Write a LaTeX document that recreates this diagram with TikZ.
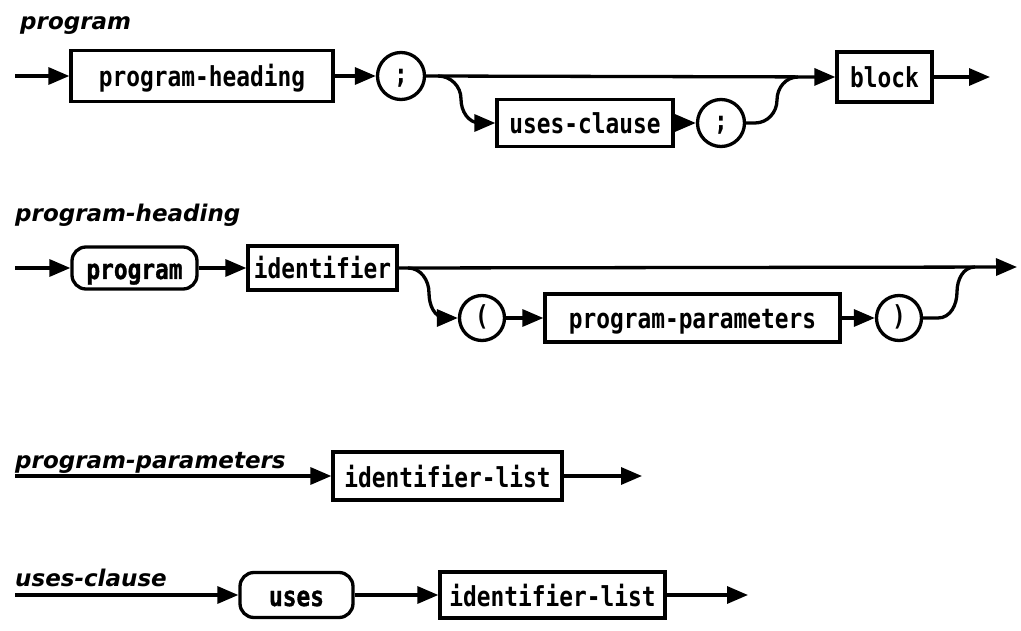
\documentclass[tikz,border=0pt]{standalone}
\usepackage{fontspec}
\usetikzlibrary{arrows.meta}
\newfontfamily\boxfont[FakeStretch=0.83]{DejaVu Sans Mono}
\newfontfamily\kwfont[FakeStretch=0.83,FakeBold=1.2]{DejaVu Sans Mono Bold}
\newfontfamily\ttlfont{DejaVu Sans}
\begin{document}
\begin{tikzpicture}[x=1pt,y=-1pt,
  conn/.style={line width=3.3pt,-{Triangle[length=21pt,width=17pt]}},
  line/.style={line width=3.3pt},
  lbl/.style={font=\boxfont\bfseries\fontsize{27.5}{30}\selectfont,text height=22pt,text depth=0pt},
  nonterm/.style={draw,line width=3.3pt,lbl,inner sep=0pt},
  term/.style={draw,line width=3.3pt,rounded corners=14pt,inner sep=0pt,
    font=\kwfont\fontsize{27.5}{30}\selectfont,text height=22pt,text depth=0pt},
  sym/.style={draw,circle,line width=3.3pt,inner sep=0pt,minimum size=47pt,
    font=\boxfont\bfseries\fontsize{27.5}{30}\selectfont,text height=15pt,text depth=0pt},
  ttl/.style={anchor=base west,inner sep=0pt,font=\ttlfont\bfseries\itshape\fontsize{23}{26}\selectfont}
]
\useasboundingbox (0,0) rectangle (1021,631);

% ---------- program ----------
\node[ttl] (t1) at (20,30) {program};
\coordinate (s1) at (15,76);
\node[nonterm,minimum width=262pt,minimum height=51pt] (ph) at (202,76) {program-heading};
\node[sym] (semi1) at (401,76) {;};
\node[nonterm,minimum width=176pt,minimum height=47pt] (uc) at (585,123) {uses-clause};
\node[sym] (semi2) at (721,123) {;};
\node[nonterm,minimum width=95pt,minimum height=50pt] (blk) at (884.5,77) {block};
\coordinate (e1) at (990,77);
\coordinate (b1) at (438,76);
\coordinate (m1) at (798,77);

\draw[conn] (s1) -- (ph.west);
\draw[conn] (ph.east) -- (semi1.west);
\draw[conn] (semi1.east) -- (blk.west);
\draw[conn] (b1) to[out=0,in=90] (461,99) to[out=-90,in=180] (480,123) -- (uc.west);
\draw[conn] (uc.east) -- (semi2.west);
\draw[line] (semi2.east) -- (755,123) to[out=0,in=-90] (777,100) to[out=90,in=180] (m1);
\draw[conn] (blk.east) -- (e1);

% ---------- program-heading ----------
\node[ttl] (t2) at (15,222) {program-heading};
\coordinate (s2) at (15,268);
\node[term,minimum width=125pt,minimum height=42pt] (pk) at (134.5,268) {program};
\node[nonterm,minimum width=149pt,minimum height=44pt] (id) at (322.5,268) {identifier};
\node[sym,minimum size=45pt] (lp) at (482,318) {(};
\node[nonterm,minimum width=295pt,minimum height=48pt] (pp) at (692.5,318) {program-parameters};
\node[sym,minimum size=45pt] (rp) at (899,318) {)};
\coordinate (e2) at (1017,267);
\coordinate (b2) at (408,268);
\coordinate (m2) at (975,267);

\draw[conn] (s2) -- (pk.west);
\draw[conn] (pk.east) -- (id.west);
\draw[conn] (id.east) -- (e2);
\draw[conn] (b2) to[out=0,in=90] (429,293) to[out=-90,in=180] (446,318) -- (lp.west);
\draw[conn] (lp.east) -- (pp.west);
\draw[conn] (pp.east) -- (rp.west);
\draw[line] (rp.east) -- (938,318) to[out=0,in=-90] (957,292) to[out=90,in=180] (m2);

% ---------- program-parameters ----------
\node[ttl] (t3) at (15,468) {program-parameters};
\coordinate (s3) at (15,476);
\node[nonterm,minimum width=229pt,minimum height=48pt] (il1) at (447.5,476) {identifier-list};
\coordinate (e3) at (642,476);
\draw[conn] (s3) -- (il1.west);
\draw[conn] (il1.east) -- (e3);

% ---------- uses-clause ----------
\node[ttl] (t4) at (15,586) {uses-clause};
\coordinate (s4) at (15,595);
\node[term,minimum width=113pt,minimum height=45pt] (us) at (296.5,595) {uses};
\node[nonterm,minimum width=225pt,minimum height=46pt] (il2) at (552.5,595) {identifier-list};
\coordinate (e4) at (748,595);
\draw[conn] (s4) -- (us.west);
\draw[conn] (us.east) -- (il2.west);
\draw[conn] (il2.east) -- (e4);
\end{tikzpicture}
\end{document}
